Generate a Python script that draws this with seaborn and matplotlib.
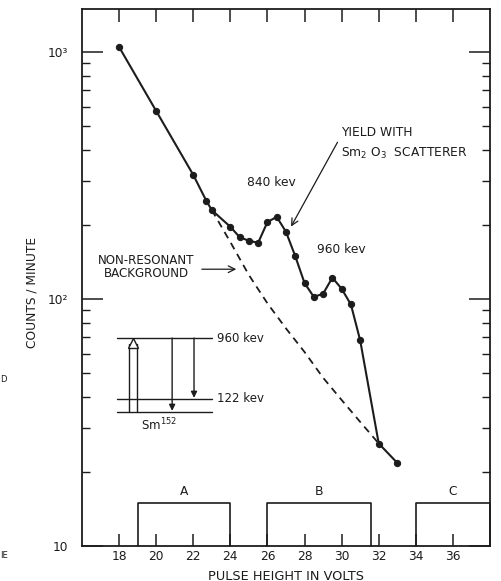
import numpy as np
import pandas as pd
import matplotlib
matplotlib.use("Agg")
import matplotlib.pyplot as plt
import seaborn as sns
from matplotlib.ticker import FixedLocator, NullFormatter, FixedFormatter

# ---------------- data ----------------
pulse_v = [18, 20, 22, 22.7, 23, 24, 24.5, 25, 25.5, 26, 26.5, 27, 27.5,
           28, 28.5, 29, 29.5, 30, 30.5, 31, 32, 33]
counts = [1048, 577, 318, 250, 229, 196, 178, 172, 169, 205, 215, 187, 149,
          116, 102, 105, 122, 110, 95, 68, 26, 21.7]

bg_v = [23, 24, 25, 26, 27, 28, 29, 30, 31, 32]
bg_counts = [229, 170, 125, 96, 76, 61, 48, 39, 31.8, 26]

box_labels = ["A", "B", "C"]
box_start = [19, 26, 34]
box_end = [24, 31.6, 38]
box_top = 15

x_ticks = [18, 20, 22, 24, 26, 28, 30, 32, 34, 36]
y_major = [10, 100, 1000]
y_major_labels = ["10", "10²", "10³"]

INK = "#1c1c1c"
FS = 8.8

# ---------------- style ----------------
sns.set_theme(style="ticks")
plt.rcParams["font.family"] = ["DejaVu Sans"]
plt.rcParams["axes.edgecolor"] = INK
plt.rcParams["axes.linewidth"] = 1.3

fig = plt.figure(figsize=(5.01, 5.81), dpi=100)
fig.patch.set_facecolor("white")
ax = fig.add_axes([82 / 501, 35 / 581, 408 / 501, 537 / 581])
ax.set_facecolor("white")

df = pd.DataFrame({"v": pulse_v, "c": counts})
dbg = pd.DataFrame({"v": bg_v, "c": bg_counts})

sns.lineplot(data=df, x="v", y="c", ax=ax, color=INK, lw=1.5,
             marker="o", markersize=4.5, markeredgecolor=INK, sort=False)
sns.lineplot(data=dbg, x="v", y="c", ax=ax, color=INK, lw=1.3,
             linestyle=(0, (4, 3)), sort=False)

ax.set_yscale("log")
ax.set_xlim(16, 38)
ax.set_ylim(10, 1493)

# channel boxes
for lab, s, e in zip(box_labels, box_start, box_end):
    ax.plot([s, s, e, e], [10, box_top, box_top, 10], color=INK, lw=1.2,
            clip_on=False)
    ax.text((s + e) / 2, box_top * 1.04, lab, ha="center", va="bottom",
            fontsize=FS, color=INK)

# ticks
ax.xaxis.set_major_locator(FixedLocator(x_ticks))
ax.yaxis.set_major_locator(FixedLocator(y_major))
ax.yaxis.set_major_formatter(FixedFormatter(y_major_labels))
minor = [m * d for d in [10, 100, 1000] for m in range(2, 10) if m * d < 1493]
ax.yaxis.set_minor_locator(FixedLocator(minor))
ax.yaxis.set_minor_formatter(NullFormatter())
ax.xaxis.set_minor_locator(FixedLocator([]))
ax.tick_params(axis="x", which="major", direction="in", length=9, width=1.1,
               top=True, labelsize=8.8, pad=3, colors=INK)
ax.tick_params(axis="y", which="major", direction="in", length=15, width=1.1,
               right=True, labelsize=8.8, pad=10, colors=INK)
ax.tick_params(axis="y", which="minor", direction="in", length=6, width=1.0,
               right=True, colors=INK)
ax.set_xlabel("")
ax.set_ylabel("")

fig.text(286 / 501, 1 - 576 / 581, "PULSE HEIGHT IN VOLTS", ha="center",
         va="center", fontsize=9.3, color=INK)
fig.text(32 / 501, 1 - 292 / 581, "COUNTS / MINUTE", rotation=90,
         ha="center", va="center", fontsize=8.8, color=INK)

# annotations
ax.text(29.96, 470, "YIELD WITH", ha="left", va="center", fontsize=FS,
        color=INK)
ax.text(29.96, 390, r"Sm$_2$ O$_3$  SCATTERER", ha="left", va="center",
        fontsize=FS, color=INK)
ax.annotate("", xy=(27.2, 192), xytext=(29.85, 441),
            arrowprops=dict(arrowstyle="->", color=INK, lw=0.9))
ax.text(26.19, 295, "840 kev", ha="center", va="center", fontsize=FS,
        color=INK)
ax.text(29.96, 158, "960 kev", ha="center", va="center", fontsize=FS,
        color=INK)
ax.text(19.45, 135, "NON-RESONANT\nBACKGROUND", ha="center", va="center",
        fontsize=8.6, color=INK, linespacing=1.0)
ax.annotate("", xy=(24.47, 132), xytext=(22.31, 132),
            arrowprops=dict(arrowstyle="->", color=INK, lw=0.9))

# level diagram
lvl_top, lvl_122, lvl_0 = 69.5, 39.4, 34.9
for yv in (lvl_top, lvl_122, lvl_0):
    ax.plot([17.9, 23.0], [yv, yv], color=INK, lw=1.0)
ax.text(23.3, lvl_top, "960 kev", ha="left", va="center", fontsize=8.5,
        color=INK)
ax.text(23.3, lvl_122, "122 kev", ha="left", va="center", fontsize=8.5,
        color=INK)
ax.text(20.15, 30.9, r"Sm$^{152}$", ha="center", va="center", fontsize=8.5,
        color=INK)
for xv in (18.54, 18.97):
    ax.plot([xv, xv], [lvl_0, 66], color=INK, lw=1.0)
ax.plot([18.755], [66.5], marker="^", markersize=7, mfc="white", mec=INK,
        mew=1.0)
ax.annotate("", xy=(20.86, lvl_0 * 1.01), xytext=(20.86, lvl_top),
            arrowprops=dict(arrowstyle="-|>", color=INK, lw=1.0,
                            mutation_scale=9, shrinkA=0, shrinkB=0))
ax.annotate("", xy=(22.04, lvl_122 * 1.01), xytext=(22.04, lvl_top),
            arrowprops=dict(arrowstyle="-|>", color=INK, lw=1.0,
                            mutation_scale=9, shrinkA=0, shrinkB=0))

# scan edge fragments
fig.text(0.5 / 501, 1 - 380 / 581, "D", ha="left", va="center", fontsize=6,
         color=INK)
fig.text(0.5 / 501, 1 - 555 / 581, "IE", ha="left", va="center", fontsize=6,
         color=INK)

fig.savefig("out.png", dpi=100, facecolor="white")
